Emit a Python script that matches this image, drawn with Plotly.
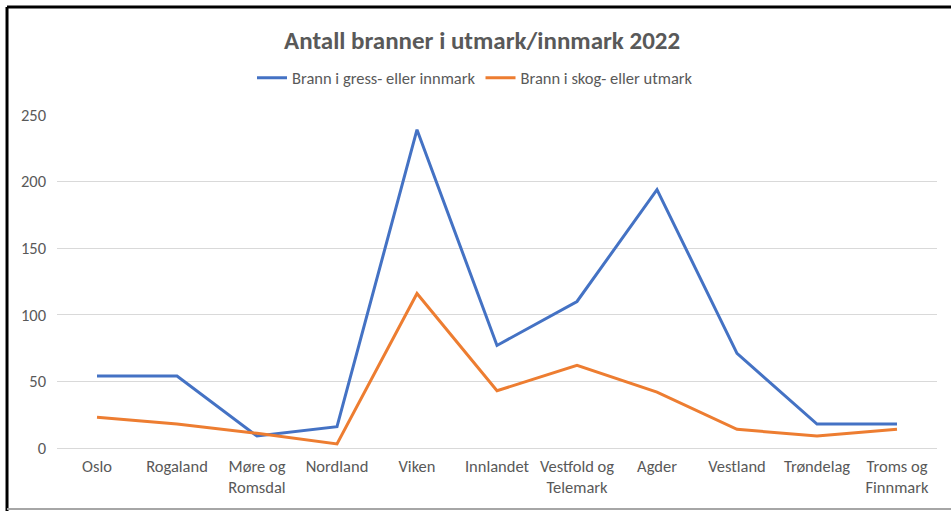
import plotly.graph_objects as go

FONT = "Carlito, Calibri, Lato, sans-serif"
TEXT_GREY = "#595959"

regions = ["Oslo", "Rogaland", "Møre og<br>Romsdal", "Nordland", "Viken",
           "Innlandet", "Vestfold og<br>Telemark", "Agder", "Vestland",
           "Trøndelag", "Troms og<br>Finnmark"]
gress_innmark = [54, 54, 9, 16, 239, 77, 110, 194, 71, 18, 18]
skog_utmark = [23, 18, 11, 3, 116, 43, 62, 42, 14, 9, 14]
y_ticks = [0, 50, 100, 150, 200, 250]


def build_figure() -> go.Figure:
    '''Line chart of fires per region'''
    fig = go.Figure()
    fig.add_trace(go.Scatter(x=regions, y=gress_innmark, mode="lines",
                             name="Brann i gress- eller innmark",
                             line=dict(color="#4472C4", width=3)))
    fig.add_trace(go.Scatter(x=regions, y=skog_utmark, mode="lines",
                             name="Brann i skog- eller utmark",
                             line=dict(color="#ED7D31", width=3)))

    fig.update_layout(
        width=951, height=511,
        margin=dict(l=57, r=14, t=115, b=63),
        paper_bgcolor="white", plot_bgcolor="white",
        font=dict(family=FONT, size=16.5, color=TEXT_GREY),
        title=dict(text="<b>Antall branner i utmark/innmark 2022</b>",
                   x=0.507, xanchor="center", y=0.922, yanchor="middle",
                   font=dict(size=25, color=TEXT_GREY)),
        legend=dict(orientation="h", x=0.475, xanchor="center",
                    y=1.111, yanchor="middle", font=dict(size=16.5),
                    itemwidth=30, tracegroupgap=0),
        showlegend=True,
    )
    fig.update_xaxes(range=[-0.5, 10.5], showgrid=False, showline=False,
                     ticks="", ticklabelstandoff=6,
                     tickfont=dict(size=16.5), fixedrange=True)
    fig.update_yaxes(range=[0, 250], tickvals=y_ticks, showgrid=True,
                     gridcolor="#D9D9D9", gridwidth=1, zeroline=True,
                     zerolinecolor="#D9D9D9", zerolinewidth=1,
                     showline=False, ticks="", ticklabelstandoff=10,
                     tickfont=dict(size=16.5), fixedrange=True)

    # frame of the original screenshot: black top/left, grey bottom
    fig.add_shape(type="line", xref="paper", yref="paper",
                  x0=-0.0568, x1=1.02, y0=1.3243, y1=1.3243,
                  line=dict(color="black", width=3))
    fig.add_shape(type="line", xref="paper", yref="paper",
                  x0=-0.0568, x1=-0.0568, y0=1.3243, y1=-0.19,
                  line=dict(color="black", width=3))
    fig.add_shape(type="line", xref="paper", yref="paper",
                  x0=-0.0568, x1=1.02, y0=-0.1832, y1=-0.1832,
                  line=dict(color="#A6A6A6", width=2))
    return fig


fig = build_figure()
# drop the default page margin so the figure sits at the window corner
fig.write_html("out.html", config={"displayModeBar": False},
               post_script="document.body.style.margin='0';")
